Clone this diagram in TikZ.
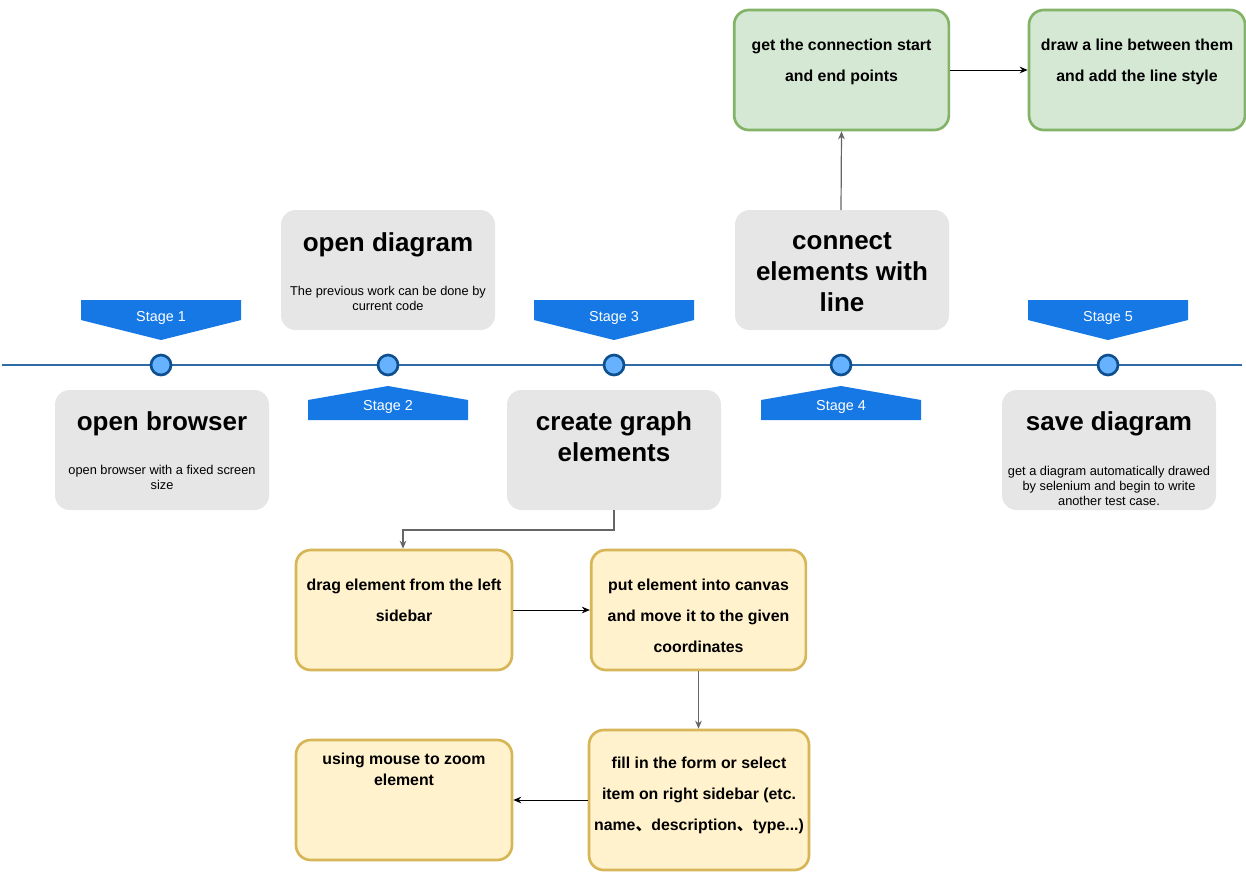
\documentclass[tikz,border=0pt]{standalone}
\usepackage{fontspec}
\setmainfont{Liberation Sans}
\newfontfamily\cjk{Noto Sans CJK SC}
\usetikzlibrary{arrows.meta}
\definecolor{tl}{HTML}{2F6BA6}
\definecolor{cfill}{HTML}{66B2FF}
\definecolor{cdraw}{HTML}{0E4F8F}
\definecolor{stg}{HTML}{1578E5}
\definecolor{gbox}{HTML}{E6E6E6}
\definecolor{yfill}{HTML}{FFF2CC}
\definecolor{ydraw}{HTML}{D6B656}
\definecolor{gfill}{HTML}{D5E8D4}
\definecolor{gdraw}{HTML}{82B366}
\tikzset{
  graybox/.style={fill=gbox, draw=none, rounded corners=11pt},
  ybox/.style={fill=yfill, draw=ydraw, line width=2pt, rounded corners=11pt},
  grbox/.style={fill=gfill, draw=gdraw, line width=2pt, rounded corners=11pt},
  dot/.style={circle, fill=cfill, draw=cdraw, line width=2pt, minimum size=15pt, inner sep=0pt},
  stagefill/.style={fill=stg, draw=none},
  stagetext/.style={text=white, font=\fontsize{10.8}{12}\selectfont, inner sep=0pt},
  title/.style={font=\bfseries\fontsize{19.5}{23.25}\selectfont, align=center, inner sep=0pt},
  sub/.style={font=\fontsize{9.6}{11.25}\selectfont, align=center, inner sep=0pt},
  btext/.style={font=\bfseries\fontsize{11.9}{23.25}\selectfont, align=center, inner sep=0pt},
  conn/.style={draw=black, line width=0.75pt, -{Stealth[length=6pt,width=5pt]}},
  gconn/.style={draw=black!60, line width=0.9pt, -{Stealth[length=6pt,width=5pt]}},
}
\begin{document}
\begin{tikzpicture}[x=0.75pt,y=-0.75pt]
\useasboundingbox (0,0) rectangle (1246,872);
% timeline
\coordinate (tlA) at (2,365);
\coordinate (tlB) at (1242,365);
\draw[tl, line width=1.6pt] (tlA) -- (tlB);
% stage markers (down-pointing)
\foreach \cx/\n in {161/1,614/3,1108/5}{
  \fill[stagefill] (\cx-80,300) -- (\cx+80,300) -- (\cx+80,320) -- (\cx,340) -- (\cx-80,320) -- cycle;
  \node[stagetext] (st\n) at (\cx,317.5) {Stage \n};
}
% stage markers (up-pointing)
\foreach \cx/\n in {388/2,841/4}{
  \fill[stagefill] (\cx-80,420) -- (\cx+80,420) -- (\cx+80,400) -- (\cx,386) -- (\cx-80,400) -- cycle;
  \node[stagetext] (st\n) at (\cx,406.5) {Stage \n};
}
% dots
\foreach \cx/\n in {161/1,388/2,614/3,841/4,1108/5}{
  \node[dot] (d\n) at (\cx,365) {};
}
% gray boxes
\path[graybox] (55,390) rectangle (269,510);
\node[title] (t1) at (162,424) {open browser};
\node[sub] (s1) at (162,477.5) {open browser with a fixed screen\\size};

\path[graybox] (281,210) rectangle (495,330);
\node[title] (t2) at (388,245) {open diagram};
\node[sub] (s2) at (388,298) {The previous work can be done by\\current code};

\path[graybox] (507,390) rectangle (721,510);
\coordinate (cgB) at (614,510);
\node[title] (t3) at (614,437) {create graph\\elements};

\path[graybox] (735,210) rectangle (949,330);
\coordinate (ceT) at (841,210);
\node[title] (t4) at (842,272.5) {connect\\elements with\\line};

\path[graybox] (1002,390) rectangle (1216,510);
\node[title] (t5) at (1109,424) {save diagram};
\node[sub] (s5) at (1109,485.5) {get a diagram automatically drawed\\by selenium and begin to write\\another test case.};

% yellow boxes
\node[ybox, minimum width=162pt, minimum height=90pt] (drag) at (404,610) {};
\node[btext] at (404,600) {drag element from the left\\sidebar};
\node[ybox, minimum width=161pt, minimum height=90pt] (put) at (698.5,610) {};
\node[btext] at (698.5,615.5) {put element into canvas\\and move it to the given\\coordinates};
\node[ybox, minimum width=165pt, minimum height=105pt] (fill) at (699,800) {};
\node[btext] at (699,795.5) {fill in the form or select\\item on right sidebar (etc.\\name{\cjk 、}description{\cjk 、}type...)};
\node[ybox, minimum width=162pt, minimum height=90pt] (using) at (404,800) {};
\node[btext, font=\bfseries\fontsize{11.9}{15.75}\selectfont] at (404,769) {using mouse to zoom\\element};

% green boxes
\node[grbox, minimum width=161pt, minimum height=90pt] (get) at (841.5,70) {};
\node[btext] at (841.5,62) {get the connection start\\and end points};
\node[grbox, minimum width=162pt, minimum height=90pt] (drw) at (1137,70) {};
\node[btext] at (1137,62) {draw a line between them\\and add the line style};

% connectors
\draw[gconn] (cgB) -- (614,530) -- (403,530) -- (drag.north -| 403,550);
\draw[conn] (drag.east) -- (put.west);
\draw[gconn] (put.south) -- (fill.north -| put.south);
\draw[conn] (fill.west) -- (using.east);
\draw[gconn] (ceT) -- (get.south);
\draw[conn] (get.east) -- (drw.west);
\end{tikzpicture}
\end{document}
